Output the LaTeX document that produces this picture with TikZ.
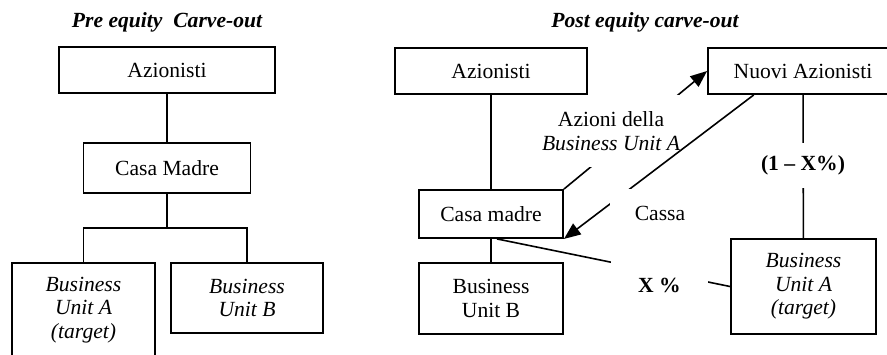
\documentclass[tikz,border=0pt]{standalone}
\usepackage{fontspec}
\setmainfont{Liberation Serif}
\usetikzlibrary{arrows.meta}

\begin{document}
\begin{tikzpicture}[x=0.75pt,y=-0.75pt,color=black,
  font=\fontsize{16.2}{17.6}\selectfont,
  unit/.style={draw,line width=1.4pt,align=center,inner sep=0pt},
  link/.style={line width=1.2pt},
  flow/.style={line width=1.2pt,-{Triangle[length=12.5pt,width=10pt]}},
  tag/.style={fill=white,align=center,inner sep=0pt},
  heading/.style={font=\fontsize{16.2}{17.6}\selectfont\bfseries\itshape}]

\useasboundingbox (0,0) rectangle (887,354);
\clip (0,0) rectangle (887,354);

\node (preTitle) at (167,22)[heading]{Pre equity\ \ Carve-out};
\node (postTitle) at (645,22)[heading]{Post equity carve-out};

%pre equity carve-out
\node (azL) at (167,70)[unit,minimum width=162pt,minimum height=34.5pt]{Azionisti};

\node (cmL) at (167,168)[unit,minimum width=125.25pt,minimum height=37.5pt]{Casa Madre};

\node (buaL) at (83.5,310)[unit,minimum width=107.25pt,minimum height=70.5pt]{\itshape Business\\\itshape Unit A\\\itshape (target)};

\node (bubL) at (247,298)[unit,minimum width=114pt,minimum height=52.5pt]{\itshape Business\\\itshape Unit B};

\coordinate (fork) at (167,228);

\draw[link] (azL) -- (cmL);
\draw[link] (cmL) -- (fork);
\draw[link] (buaL.north) |- (fork) -| (bubL.north);

%post equity carve-out
\node (azR) at (491,71)[unit,minimum width=144pt,minimum height=34.5pt]{Azionisti};

\node (nuovi) at (803,71)[unit,minimum width=142.5pt,minimum height=34.5pt]{Nuovi Azionisti};

\node (cmR) at (491,214)[unit,minimum width=108pt,minimum height=36pt]{Casa madre};

\node (bubR) at (491,298.5)[unit,minimum width=108pt,minimum height=53.25pt]{Business\\Unit B};

\node (buaR) at (803.5,286.5)[unit,minimum width=108.75pt,minimum height=71.25pt]{\itshape Business\\\itshape Unit A\\\itshape (target)};

\draw[link] (azR) -- (cmR);
\draw[link] (cmR) -- (bubR);

% the white labels hide part of the lines below them
\draw[flow] (cmR.north east) -- (nuovi.west);
\node (azioni) at (611,131)[tag,minimum width=112.5pt,minimum height=54pt]{Azioni della\\\itshape Business Unit A};

\draw[flow] ([xshift=35pt]nuovi.south west) -- (cmR.south east);
\node (cassa) at (660,213)[tag,minimum width=75pt,minimum height=36pt]{Cassa};

\draw[link] ([xshift=4.5pt]cmR.south) -- (buaR.west);
\node (quota) at (659.5,285)[tag,minimum width=72.75pt,minimum height=45pt]{\bfseries X \%};

\draw[link] (nuovi) -- (buaR);
\node (resto) at (803,165)[tag,minimum width=64.5pt,minimum height=33.75pt]{\bfseries (1 -- X\%)};

\end{tikzpicture}
\end{document}
